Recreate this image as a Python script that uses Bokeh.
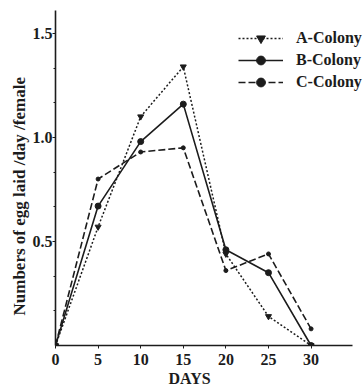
from bokeh.plotting import figure
from bokeh.models import (Range1d, FixedTicker, Legend, LegendItem,
                          PrintfTickFormatter, Title)
from bokeh.embed import file_html
from bokeh.resources import INLINE

# ---- data ----
days = [0, 5, 10, 15, 20, 25, 30]
a_colony = [0.0, 0.57, 1.10, 1.34, 0.44, 0.14, 0.0]
b_colony = [0.0, 0.67, 0.98, 1.16, 0.46, 0.35, 0.0]
c_colony = [0.0, 0.80, 0.93, 0.95, 0.36, 0.44, 0.08]
x_ticks = [0, 5, 10, 15, 20, 25, 30]
y_ticks = [0.5, 1.0, 1.5]
y_minor = [1/6, 2/6, 4/6, 5/6, 7/6, 8/6]
series_names = ["A-Colony", "B-Colony", "C-Colony"]
x_title = "DAYS"
y_title = "Numbers of egg laid /day /female"

INK = "#1c1c1c"
FONT = "Liberation Serif"

p = figure(width=364, height=392, output_backend="svg", toolbar_location=None,
           x_range=Range1d(0, 36.27), y_range=Range1d(0, 1.61),
           min_border_left=55, min_border_right=0, min_border_top=10,
           min_border_bottom=47)
p.outline_line_color = None
p.xgrid.visible = False
p.ygrid.visible = False
p.background_fill_color = "white"

for ax in (p.xaxis[0], p.yaxis[0]):
    ax.axis_line_color = INK
    ax.axis_line_width = 1.6
    ax.major_tick_line_color = INK
    ax.minor_tick_line_color = INK
    ax.major_label_text_font = FONT
    ax.major_label_text_font_style = "bold"
    ax.major_label_text_font_size = "16px"
    ax.major_label_text_color = INK
    ax.major_tick_in = 0

p.xaxis.ticker = FixedTicker(ticks=x_ticks)
p.xaxis.bounds = (0, 34.86)
p.xaxis.major_tick_out = 3
p.xaxis.minor_tick_out = 0
p.xaxis.major_label_standoff = 5

p.yaxis.ticker = FixedTicker(ticks=y_ticks, minor_ticks=y_minor)
p.yaxis.formatter = PrintfTickFormatter(format="%.1f")
p.yaxis.major_tick_out = 3
p.yaxis.minor_tick_out = 2
p.yaxis.minor_tick_in = 0
p.yaxis.major_label_standoff = 0

p.add_layout(Title(text=y_title, align="left", offset=30, standoff=2,
                   text_font=FONT, text_font_style="bold",
                   text_font_size="17px", text_color=INK), "left")
p.add_layout(Title(text=x_title, align="left", offset=113, standoff=1,
                   text_font=FONT, text_font_style="bold",
                   text_font_size="16px", text_color=INK), "below")

# series
la = p.line(days, a_colony, line_color=INK, line_width=1.5, line_dash="2 2")
sa = p.scatter(days, a_colony, marker="inverted_triangle", size=6, color=INK)
lb = p.line(days, b_colony, line_color=INK, line_width=1.6)
sb = p.scatter(days, b_colony, marker="circle", size=6, color=INK)
lc = p.line(days, c_colony, line_color=INK, line_width=1.6, line_dash="7 3")
sc = p.scatter(days, c_colony, marker="circle", size=4, color=INK)

legend = Legend(items=[
    LegendItem(label=series_names[0], renderers=[la, sa]),
    LegendItem(label=series_names[1], renderers=[lb, sb]),
    LegendItem(label=series_names[2], renderers=[lc, sc]),
], location=(183, 252), glyph_width=45, glyph_height=22, label_height=22,
    spacing=0, padding=0, margin=0, border_line_color=None,
    background_fill_alpha=0, label_text_font=FONT,
    label_text_font_style="bold", label_text_font_size="16px",
    label_text_color=INK, label_standoff=13)
p.add_layout(legend)

open("out.html", "w").write(file_html(p, INLINE))
